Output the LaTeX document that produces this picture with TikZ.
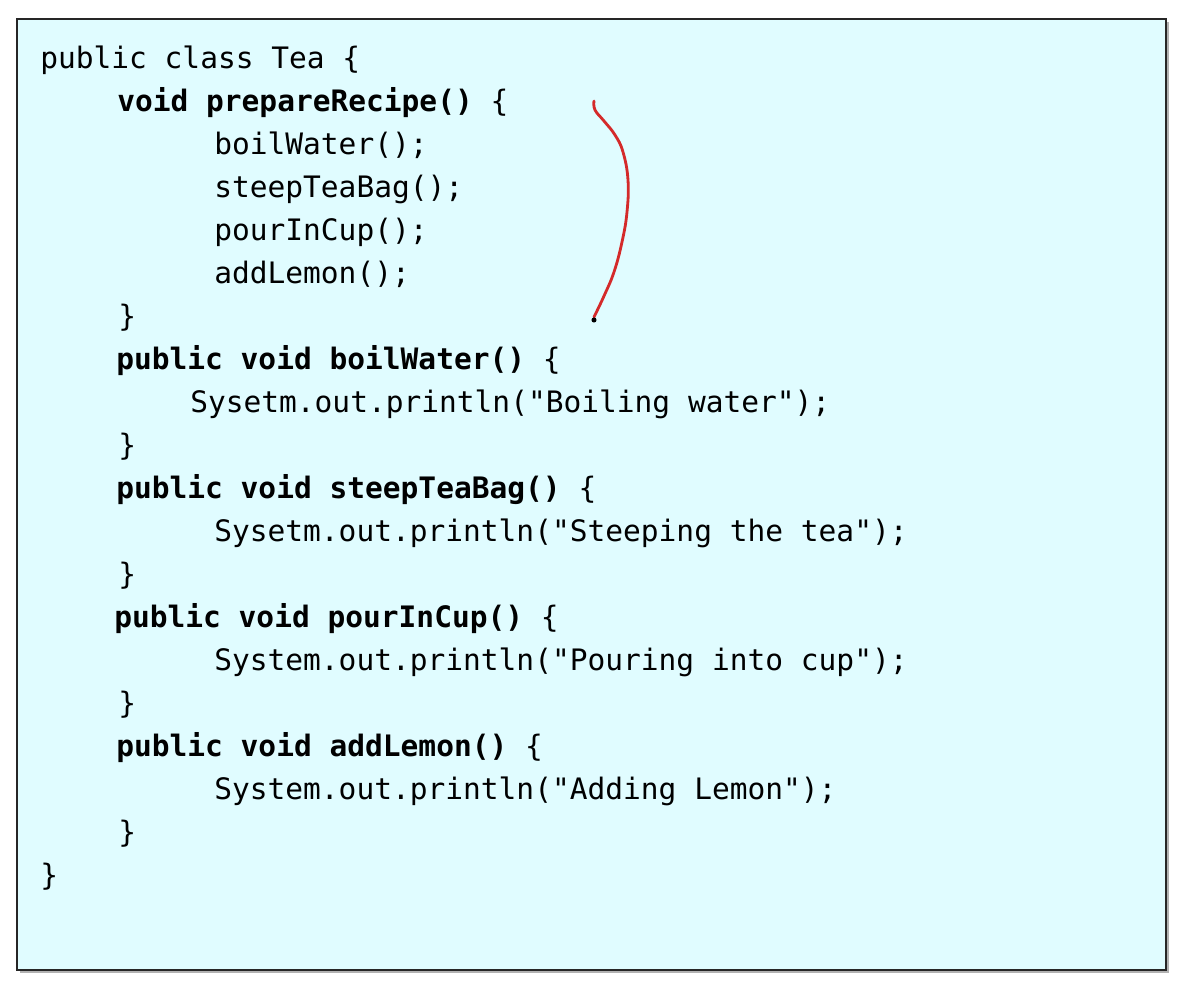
\documentclass[tikz,border=0pt]{standalone}
\usepackage{fontspec}
\usetikzlibrary{calc}
\setmonofont{DejaVu Sans Mono}
\definecolor{panel}{HTML}{E0FCFF}
\definecolor{pen}{HTML}{D42A2A}
\tikzset{
  codeline/.style = {anchor=base west, inner sep=0pt, font=\ttfamily\fontsize{21}{25}\selectfont},
  codebold/.style = {codeline, font=\ttfamily\bfseries\fontsize{21}{25}\selectfont},
}
\newcommand{\openbr}{{\mdseries\{}}

\begin{document}
\begin{tikzpicture}[x=0.025cm, y=-0.025cm]
                \useasboundingbox (0,0) rectangle (1186,986);
                \coordinate (P1) at (17,19);
                \coordinate (P2) at (1166,970);
                \fill[gray!60] ($(P1)+(3,3)$) rectangle ($(P2)+(3,3)$);
                \draw[fill=panel, draw=black!85, line width=1.3pt] (P1) rectangle (P2);
                % class and template method
                \node[codeline] (cls)    at (40,68)  {public class Tea \{};
                \node[codebold] (prep)   at (117,111) {void prepareRecipe() \openbr};
                \node[codeline] (callA)  at (214,154) {boilWater();};
                \node[codeline] (callB)  at (214,197) {steepTeaBag();};
                \node[codeline] (callC)  at (214,240) {pourInCup();};
                \node[codeline] (callD)  at (214,283) {addLemon();};
                \node[codeline] (endP)   at (118,326) {\}};
                % the four steps
                \node[codebold] (boil)   at (116,369) {public void boilWater() \openbr};
                \node[codeline] (boilB)  at (190,412) {Sysetm.out.println("Boiling water");};
                \node[codeline] (endB)   at (118,455) {\}};
                \node[codebold] (steep)  at (116,498) {public void steepTeaBag() \openbr};
                \node[codeline] (steepB) at (214,541) {Sysetm.out.println("Steeping the tea");};
                \node[codeline] (endS)   at (118,584) {\}};
                \node[codebold] (pour)   at (114,627) {public void pourInCup() \openbr};
                \node[codeline] (pourB)  at (214,670) {System.out.println("Pouring into cup");};
                \node[codeline] (endC)   at (118,713) {\}};
                \node[codebold] (lemon)  at (116,756) {public void addLemon() \openbr};
                \node[codeline] (lemonB) at (214,799) {System.out.println("Adding Lemon");};
                \node[codeline] (endL)   at (118,842) {\}};
                \node[codeline] (endT)   at (40,885)  {\}};
                % hand drawn mark
                \draw[pen, line width=2pt, line cap=round] plot[smooth, tension=0.7] coordinates
                  {(594,101) (595,110) (604,121) (615,135) (623,152) (628,180) (627,212) (622,242) (614,272) (604,296) (594,317)};
                \coordinate (dot) at (594,320);
                \fill (dot) circle[radius=1.8pt];
\end{tikzpicture}
\end{document}
